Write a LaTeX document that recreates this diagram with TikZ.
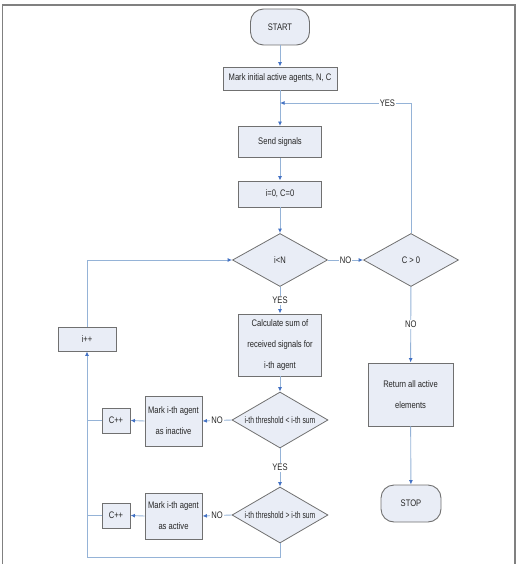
\documentclass[tikz,border=0pt]{standalone}
\usepackage{fontspec}
\setmainfont{Liberation Sans}[FakeStretch=0.8]
\newfontfamily\narrowsf{Liberation Sans}[FakeStretch=0.71]
\usetikzlibrary{shapes.geometric, arrows.meta, positioning}
\definecolor{boxfill}{RGB}{233,237,246}
\definecolor{boxline}{RGB}{112,112,112}
\definecolor{lineblue}{RGB}{149,179,215}
\definecolor{tipblue}{RGB}{68,114,196}

\begin{document}
\begin{tikzpicture}[x=1pt, y=-1pt,
  font=\fontsize{9.5}{21}\selectfont, text=black!85,
  basic/.style = {draw=boxline, fill=boxfill, line width=0.9pt, rectangle, align=center, inner sep=1pt},
  term/.style  = {basic, rounded corners=13pt},
  cond/.style  = {diamond, draw=boxline, fill=boxfill, line width=0.8pt, inner sep=0pt, aspect=1.8},
  flow/.style  = {draw=lineblue, line width=0.9pt, -{Latex[color=tipblue, length=4.5pt, width=4pt]}},
  plain/.style = {draw=lineblue, line width=0.9pt},
  lbl/.style   = {fill=white, inner sep=1pt}]

\useasboundingbox (0,0) rectangle (522,564);
% frame round the figure
\draw[gray, line width=1.5pt] (2.5,564) -- (2.5,5) -- (515,5) -- (515,564);

% main column
\node[term, minimum width=59pt, minimum height=36pt] (start) at (280,27) {START};
\node[basic, minimum width=114pt, minimum height=23pt] (mark) at (280,78.5) {Mark initial active agents, N, C};
\node[basic, minimum width=83pt, minimum height=31pt] (send) at (280,142) {Send signals};
\node[basic, minimum width=83pt, minimum height=26pt] (init) at (280,194) {i=0, C=0};
\node[cond, minimum width=95pt, minimum height=53pt, label=center:{i<N}] (loop) at (280,260) {};
\node[basic, minimum width=83pt, minimum height=62pt] (calc) at (280,345) {Calculate sum of\\ received signals for\\ i-th agent};
\node[cond, minimum width=96pt, minimum height=56pt, label=center:{\narrowsf i-th threshold < i-th sum}] (t1) at (280,420) {};
\node[cond, minimum width=96pt, minimum height=56pt, label=center:{\narrowsf i-th threshold > i-th sum}] (t2) at (280,515) {};

% left side
\node[basic, minimum width=57pt, minimum height=50pt] (m1) at (173.5,421) {Mark i-th agent\\ as inactive};
\node[basic, minimum width=57pt, minimum height=46pt] (m2) at (173.5,516) {Mark i-th agent\\ as active};
\node[basic, minimum width=28pt, minimum height=25pt] (cpp1) at (116,420.5) {C++};
\node[basic, minimum width=28pt, minimum height=25pt] (cpp2) at (116,515.5) {C++};
\node[basic, minimum width=58pt, minimum height=24pt] (inc) at (87,339) {i++};

% right side
\node[cond, minimum width=95pt, minimum height=53pt, label=center:{C > 0}] (check) at (411,260) {};
\node[basic, minimum width=85pt, minimum height=63pt] (ret) at (410.5,394.5) {Return all active\\ elements};
\node[term, minimum width=60pt, minimum height=37pt] (stop) at (411,503.5) {STOP};

\coordinate (yesj) at (280,103);
\coordinate (loopbot) at (87,557);

%----------------------------- arrows down the main column -----------------------------
\draw[flow] (start) -- (mark);
\draw[flow] (mark) -- (send);
\draw[flow] (send) -- (init);
\draw[flow] (init) -- (loop);
\draw[flow] (loop) -- node[lbl] {YES} (calc);
\draw[flow] (calc) -- (t1);
\draw[flow] (t1) -- node[lbl] {YES} (t2);
\draw[flow] (loop) -- node[lbl] {NO} (check);

%----------------------------- the two tests and their counters -------------------------
\foreach \value in {1,2} {
  \draw[flow] (t\value.west) -- node[lbl] {NO} (m\value.east);
  \draw[flow] (m\value.west) -- (cpp\value.east);
  \draw[plain] (cpp\value.west) -- (cpp\value.west -| inc.south);
}

% back to the loop test
\draw[flow] (t2.south) |- (loopbot) -- (inc.south);
\draw[flow] (inc.north) |- (loop.west);

%----------------------------- right column ---------------------------------------------
\draw[flow] (check.north) |- node[lbl, pos=0.59] {YES} (yesj);
\draw[flow] (check) -- node[lbl] {NO} (ret);
\draw[flow] (ret) -- (stop);

\end{tikzpicture}
\end{document}
